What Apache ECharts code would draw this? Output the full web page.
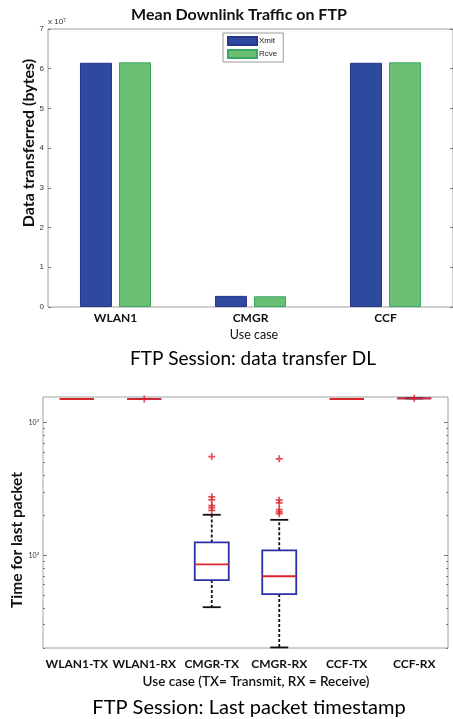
<!DOCTYPE html>
<html>
<head>
<meta charset="utf-8">
<script src="https://cdn.jsdelivr.net/npm/echarts@6/dist/echarts.min.js"></script>
<style>
  html, body { margin: 0; padding: 0; background: #fff; }
  #chart { width: 453px; height: 719px; }
</style>
</head>
<body>
<div id="chart"></div>
<script>
// top chart: mean downlink traffic (bytes)
const useCases = ['WLAN1', 'CMGR', 'CCF']
const xmit = [6.15e7, 0.28e7, 6.15e7]
const rcve = [6.16e7, 0.27e7, 6.16e7]
const trafficTicks = [0, 1e7, 2e7, 3e7, 4e7, 5e7, 6e7, 7e7]

// bottom chart: last packet timestamp box stats
const boxCases = ['WLAN1-TX', 'WLAN1-RX', 'CMGR-TX', 'CMGR-RX', 'CCF-TX', 'CCF-RX']
const lowWhisker = [1507, 1505, 40.6, 20.2, 1507, 1525]
const q1 = [1507, 1505, 65, 51, 1507, 1525]
const median = [1507, 1505, 85.5, 69.5, 1507, 1525]
const q3 = [1507, 1505, 125, 109, 1507, 1525]
const highWhisker = [1507, 1505, 202, 185, 1507, 1525]
const outlierCase = [1, 2, 2, 2, 2, 2, 2, 3, 3, 3, 3, 3, 3, 5]
const outlierValue = [1505, 555, 276, 262, 237, 229, 218, 533, 260, 248, 221, 212, 206, 1525]
const majorLogTicks = [100, 1000]
const minorLogTicks = [20, 30, 40, 50, 60, 70, 80, 90, 200, 300, 400, 500, 600, 700, 800, 900]

const font = 'Lato, "Open Sans", sans-serif'
const boxBlue = '#2b2fa6'
const red = '#d9262b'
const frame = '#a0a0a0'

const chart = echarts.init(document.getElementById('chart'), null, { renderer: 'canvas' })

const logAxis = (position, ticks, labels, len) => ({
    type: 'log', logBase: 10, gridIndex: 1, position: position,
    min: 20, max: 1560,
    axisLine: { show: false },
    splitLine: { show: false },
    axisTick: { show: true, inside: true, length: len, customValues: ticks, lineStyle: { color: '#777' } },
    axisLabel: labels ? {
        show: true, customValues: majorLogTicks, margin: 4, fontSize: 7, color: '#333', fontFamily: font,
        formatter: v => Math.round(Math.log10(v)) === 3 ? '10³' : '10²'
    } : { show: false }
})

const option = {
    animation: false,
    backgroundColor: '#fff',
    grid: [
        { left: 48, top: 29, width: 407, height: 278, show: true, borderColor: frame, borderWidth: 1 },
        { left: 43, top: 397, width: 405, height: 251, show: true, borderColor: frame, borderWidth: 1 }
    ],
    legend: {
        data: ['Xmit', 'Rcve'],
        orient: 'vertical',
        left: 223, top: 33,
        itemWidth: 29, itemHeight: 8, itemGap: 3,
        padding: [3, 6, 3, 4],
        borderColor: '#999', borderWidth: 1,
        icon: 'rect',
        textStyle: { fontSize: 8, color: '#222', fontFamily: 'Arial, sans-serif', padding: [0, 0, 0, -3] }
    },
    xAxis: [
        {
            type: 'category', gridIndex: 0, data: useCases, position: 'bottom',
            axisLine: { show: false },
            axisTick: { inside: true, alignWithLabel: true, length: 3, lineStyle: { color: '#777' } },
            axisLabel: { margin: 5, fontSize: 12, fontWeight: 'bold', color: '#111', fontFamily: font }
        },
        {
            type: 'category', gridIndex: 0, data: useCases, position: 'top',
            axisLine: { show: false },
            axisTick: { inside: true, alignWithLabel: true, length: 3, lineStyle: { color: '#777' } },
            axisLabel: { show: false }
        },
        {
            type: 'category', gridIndex: 1, data: boxCases, position: 'bottom',
            axisLine: { show: false },
            axisTick: { inside: true, alignWithLabel: true, length: 3, lineStyle: { color: '#777' } },
            axisLabel: { margin: 10, fontSize: 12, fontWeight: 'bold', color: '#111', fontFamily: font, interval: 0 }
        },
        {
            type: 'category', gridIndex: 1, data: boxCases, position: 'top',
            axisLine: { show: false },
            axisTick: { inside: true, alignWithLabel: true, length: 3, lineStyle: { color: '#777' } },
            axisLabel: { show: false }
        }
    ],
    yAxis: [
        {
            type: 'value', gridIndex: 0, min: 0, max: 7e7, interval: 1e7, position: 'left',
            axisLine: { show: false }, splitLine: { show: false },
            axisTick: { show: true, inside: true, length: 3, lineStyle: { color: '#777' } },
            axisLabel: { margin: 4, fontSize: 8, color: '#333', fontFamily: 'Arial, sans-serif', formatter: v => String(Math.round(v / 1e7)) }
        },
        {
            type: 'value', gridIndex: 0, min: 0, max: 7e7, interval: 1e7, position: 'right',
            axisLine: { show: false }, splitLine: { show: false },
            axisTick: { show: true, inside: true, length: 3, lineStyle: { color: '#777' } },
            axisLabel: { show: false }
        },
        logAxis('left', majorLogTicks, true, 4),
        logAxis('left', minorLogTicks, false, 2),
        logAxis('right', majorLogTicks, false, 4),
        logAxis('right', minorLogTicks, false, 2)
    ],
    series: [
        {
            name: 'Xmit', type: 'bar', xAxisIndex: 0, yAxisIndex: 0,
            data: xmit, barWidth: 32, barGap: '22%',
            itemStyle: { color: '#2e4a9f', borderColor: '#27358c', borderWidth: 1 }
        },
        {
            name: 'Rcve', type: 'bar', xAxisIndex: 0, yAxisIndex: 0,
            data: rcve, barWidth: 32,
            itemStyle: { color: '#6bbf73', borderColor: '#3aa862', borderWidth: 1 }
        },
        {
            type: 'custom', xAxisIndex: 2, yAxisIndex: 2,
            data: boxCases.map((c, i) => [i, lowWhisker[i], q1[i], median[i], q3[i], highWhisker[i]]),
            encode: { x: 0, y: [1, 2, 3, 4, 5] },
            renderItem: (params, api) => {
                const i = api.value(0)
                const x = api.coord([i, api.value(3)])[0]
                const yLow = api.coord([i, api.value(1)])[1]
                const yQ1 = api.coord([i, api.value(2)])[1]
                const yMed = api.coord([i, api.value(3)])[1]
                const yQ3 = api.coord([i, api.value(4)])[1]
                const yHigh = api.coord([i, api.value(5)])[1]
                const hw = 17
                const cap = 9
                const dash = { stroke: '#111', lineWidth: 1.8, lineDash: [3, 2] }
                const solid = { stroke: '#111', lineWidth: 1.8 }
                return {
                    type: 'group',
                    children: [
                        { type: 'line', shape: { x1: x, y1: yQ3, x2: x, y2: yHigh }, style: dash },
                        { type: 'line', shape: { x1: x, y1: yQ1, x2: x, y2: yLow }, style: dash },
                        { type: 'line', shape: { x1: x - cap, y1: yHigh, x2: x + cap, y2: yHigh }, style: solid },
                        { type: 'line', shape: { x1: x - cap, y1: yLow, x2: x + cap, y2: yLow }, style: solid },
                        { type: 'rect', shape: { x: x - hw, y: yQ3, width: hw * 2, height: yQ1 - yQ3 },
                          style: { fill: 'none', stroke: boxBlue, lineWidth: 1.8 } },
                        { type: 'line', shape: { x1: x - hw, y1: yMed, x2: x + hw, y2: yMed },
                          style: { stroke: red, lineWidth: 1.8 } }
                    ]
                }
            }
        },
        {
            type: 'scatter', xAxisIndex: 2, yAxisIndex: 2,
            data: outlierCase.map((c, i) => [c, outlierValue[i]]),
            symbol: 'path://M3,0h2v3h3v2h-3v3h-2v-3h-3v-2h3z',
            symbolSize: 7,
            itemStyle: { color: red }
        }
    ],
    graphic: [
        { type: 'text', x: 239, y: 15, style: { text: 'Mean Downlink Traffic on FTP', font: 'bold 16px ' + font, fill: '#111', align: 'center', verticalAlign: 'middle' } },
        { type: 'text', x: 48, y: 22, style: { text: 'x 10⁷', font: '8px Arial, sans-serif', fill: '#333', align: 'left', verticalAlign: 'middle' } },
        { type: 'text', x: 29, y: 143, rotation: Math.PI / 2, style: { text: 'Data transferred (bytes)', font: 'bold 16px ' + font, fill: '#111', align: 'center', verticalAlign: 'middle' } },
        { type: 'text', x: 254, y: 335, style: { text: 'Use case', font: '12.5px ' + font, fill: '#111', align: 'center', verticalAlign: 'middle' } },
        { type: 'text', x: 253, y: 359, style: { text: 'FTP Session: data transfer DL', font: '19px ' + font, fill: '#000', align: 'center', verticalAlign: 'middle' } },
        { type: 'text', x: 17, y: 540, rotation: Math.PI / 2, style: { text: 'Time for last packet', font: 'bold 15.5px ' + font, fill: '#111', align: 'center', verticalAlign: 'middle' } },
        { type: 'text', x: 256, y: 682, style: { text: 'Use case (TX= Transmit, RX = Receive)', font: '600 13.5px ' + font, fill: '#111', align: 'center', verticalAlign: 'middle' } },
        { type: 'text', x: 249, y: 708, style: { text: 'FTP Session: Last packet timestamp', font: '20px ' + font, fill: '#000', align: 'center', verticalAlign: 'middle' } }
    ]
}

chart.setOption(option)
</script>
</body>
</html>
